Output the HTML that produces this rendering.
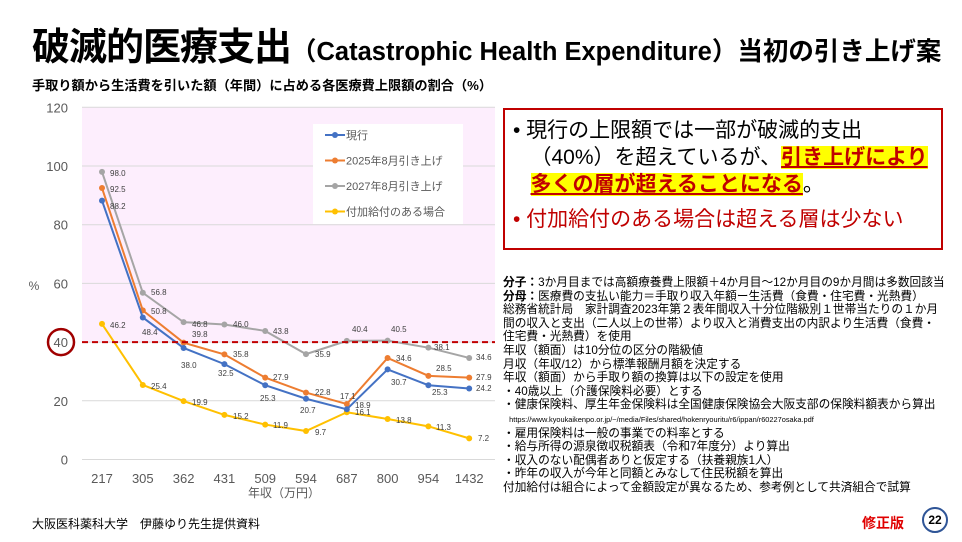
<!DOCTYPE html>
<html><head><meta charset="utf-8"><style>
html,body{margin:0;padding:0;background:#fff;width:962px;height:542px;overflow:hidden}
body{position:relative;font-family:"Liberation Sans","Noto Sans CJK JP",sans-serif;color:#000}
.a{position:absolute;white-space:nowrap}
.h{color:#c00000;background:#ff0;font-weight:bold;text-decoration:underline}
</style></head><body>
<div class="a" style="left:32px;top:16px;font-size:38px;font-weight:bold;letter-spacing:-1px">破滅的医療支出<span style="font-size:25.5px;letter-spacing:0">（Catastrophic Health Expenditure）当初の引き上げ案</span></div>
<div class="a" style="left:32px;top:75px;font-size:13.2px;font-weight:bold">手取り額から生活費を引いた額（年間）に占める各医療費上限額の割合（%）</div>
<svg class="a" style="left:0;top:0" width="962" height="542" id="s" font-family="Liberation Sans, Noto Sans CJK JP, sans-serif"></svg>
<div class="a" style="left:503px;top:108px;width:440px;height:142px;border:2px solid #c00000;box-sizing:border-box;font-size:21px;line-height:27px;padding:7px 0 0 8px;white-space:normal">
<div>• 現行の上限額では一部が破滅的支出<br>&nbsp;&nbsp;&nbsp;（40%）を超えているが、<span class="h">引き上げにより</span><br>&nbsp;&nbsp;&nbsp;<span class="h">多くの層が超えることになる</span>。</div>
<div style="color:#c00000;margin-top:8px">• 付加給付のある場合は超える層は少ない</div></div>
<div class="a" style="left:503px;top:276px;font-size:11.7px;line-height:13.6px;white-space:nowrap">
<b>分子：</b>3か月目までは高額療養費上限額＋4か月目～12か月目の9か月間は多数回該当<br><b>分母：</b>医療費の支払い能力＝手取り収入年額ー生活費（食費・住宅費・光熱費）<br>総務省統計局　家計調査2023年第２表年間収入十分位階級別１世帯当たりの１か月<br>間の収入と支出（二人以上の世帯）より収入と消費支出の内訳より生活費（食費・<br>住宅費・光熱費）を使用<br>年収（額面）は10分位の区分の階級値<br>月収（年収/12）から標準報酬月額を決定する<br>年収（額面）から手取り額の換算は以下の設定を使用<br>・40歳以上（介護保険料必要）とする<br>・健康保険料、厚生年金保険料は全国健康保険協会大阪支部の保険料額表から算出<br><span style="font-size:7.4px">&nbsp;&nbsp;&nbsp;https://www.kyoukaikenpo.or.jp/~/media/Files/shared/hokenryouritu/r6/ippan/r60227osaka.pdf</span><br>・雇用保険料は一般の事業での料率とする<br>・給与所得の源泉徴収税額表（令和7年度分）より算出<br>・収入のない配偶者ありと仮定する（扶養親族1人）<br>・昨年の収入が今年と同額とみなして住民税額を算出<br>付加給付は組合によって金額設定が異なるため、参考例として共済組合で試算</div>
<div class="a" style="left:32px;top:515px;font-size:12px">大阪医科薬科大学　伊藤ゆり先生提供資料</div>
<div class="a" style="left:862px;top:513px;font-size:14px;font-weight:bold;color:#e00000">修正版</div>
<div class="a" style="left:922px;top:507px;width:26px;height:26px;border:2px solid #2f5597;border-radius:50%;box-sizing:border-box;text-align:center;line-height:22px;font-size:12px;font-weight:bold">22</div>
<script>
const s=document.getElementById('s');const N='http://www.w3.org/2000/svg';
function e(t,a,tx){const el=document.createElementNS(N,t);for(const k in a)el.setAttribute(k,a[k]);if(tx!=null)el.textContent=tx;s.appendChild(el);return el;}
const Y=v=>459.5-v*2.935, xs=[217,305,362,431,509,594,687,800,954,1432], X=i=>102+i*40.8;
e('rect',{x:82,y:107,width:413,height:Y(40)-107,fill:'#fdeefd'});
for(let v=0;v<=120;v+=20){e('line',{x1:82,x2:495,y1:Y(v),y2:Y(v),stroke:'#d9d9d9','stroke-width':1});
 if(v!=40)e('text',{x:68,y:Y(v)+5,'text-anchor':'end','font-size':13,fill:'#595959'},v);}
e('text',{x:68,y:Y(40)+5,'text-anchor':'end','font-size':13,fill:'#595959'},'40');
e('circle',{cx:61,cy:Y(40),r:13,fill:'none',stroke:'#a00000','stroke-width':2.5});
e('text',{x:34,y:290,'font-size':12,fill:'#595959','text-anchor':'middle'},'%');
xs.forEach((x,i)=>e('text',{x:X(i),y:483,'text-anchor':'middle','font-size':13,fill:'#595959'},x));
e('text',{x:284,y:497,'text-anchor':'middle','font-size':12,fill:'#595959'},'年収（万円）');
const S=[['#4472c4',[88.2,48.4,38.0,32.5,25.3,20.7,17.1,30.7,25.3,24.2]],
['#ed7d31',[92.5,50.8,39.8,35.8,27.9,22.8,18.9,34.6,28.5,27.9]],
['#a5a5a5',[98.0,56.8,46.8,46.0,43.8,35.9,40.4,40.5,38.1,34.6]],
['#ffc000',[46.2,25.4,19.9,15.2,11.9,9.7,16.1,13.8,11.3,7.2]]];
[2,3,1,0].forEach(k=>{const [c,d]=S[k];e('polyline',{points:d.map((v,i)=>X(i)+','+Y(v)).join(' '),fill:'none',stroke:c,'stroke-width':2});
 d.forEach((v,i)=>e('circle',{cx:X(i),cy:Y(v),r:3,fill:c}));});
e('line',{x1:82,x2:495,y1:Y(40),y2:Y(40),stroke:'#c00000','stroke-width':2,'stroke-dasharray':'6,4'});
const L=[[110,176,'98.0'],[110,192,'92.5'],[110,209,'88.2'],[110,328,'46.2'],[151,295,'56.8'],[151,314,'50.8'],[142,335,'48.4'],[192,327,'46.8'],[192,337,'39.8'],[181,368,'38.0'],[233,327,'46.0'],[233,357,'35.8'],[218,376,'32.5'],[273,334,'43.8'],[273,380,'27.9'],[260,401,'25.3'],[315,357,'35.9'],[315,395,'22.8'],[300,413,'20.7'],[352,332,'40.4'],[340,399,'17.1'],[355,408,'18.9'],[355,415,'16.1'],[391,332,'40.5'],[396,361,'34.6'],[391,385,'30.7'],[434,350,'38.1'],[436,371,'28.5'],[432,395,'25.3'],[476,360,'34.6'],[476,380,'27.9'],[476,391,'24.2'],[151,389,'25.4'],[192,405,'19.9'],[233,419,'15.2'],[273,428,'11.9'],[315,435,'9.7'],[396,423,'13.8'],[436,430,'11.3'],[478,441,'7.2']];
L.forEach(([x,y,t])=>e('text',{x:x,y:y,'font-size':8,fill:'#404040'},t));
e('rect',{x:313,y:124,width:150,height:100,fill:'#fff'});
['現行','2025年8月引き上げ','2027年8月引き上げ','付加給付のある場合'].forEach((t,i)=>{const y=135+i*25.5;
 e('line',{x1:325,x2:345,y1:y,y2:y,stroke:S[i][0],'stroke-width':2});e('circle',{cx:335,cy:y,r:3,fill:S[i][0]});
 e('text',{x:346,y:y+4,'font-size':11,fill:'#595959'},t);});
</script>
</body></html>
